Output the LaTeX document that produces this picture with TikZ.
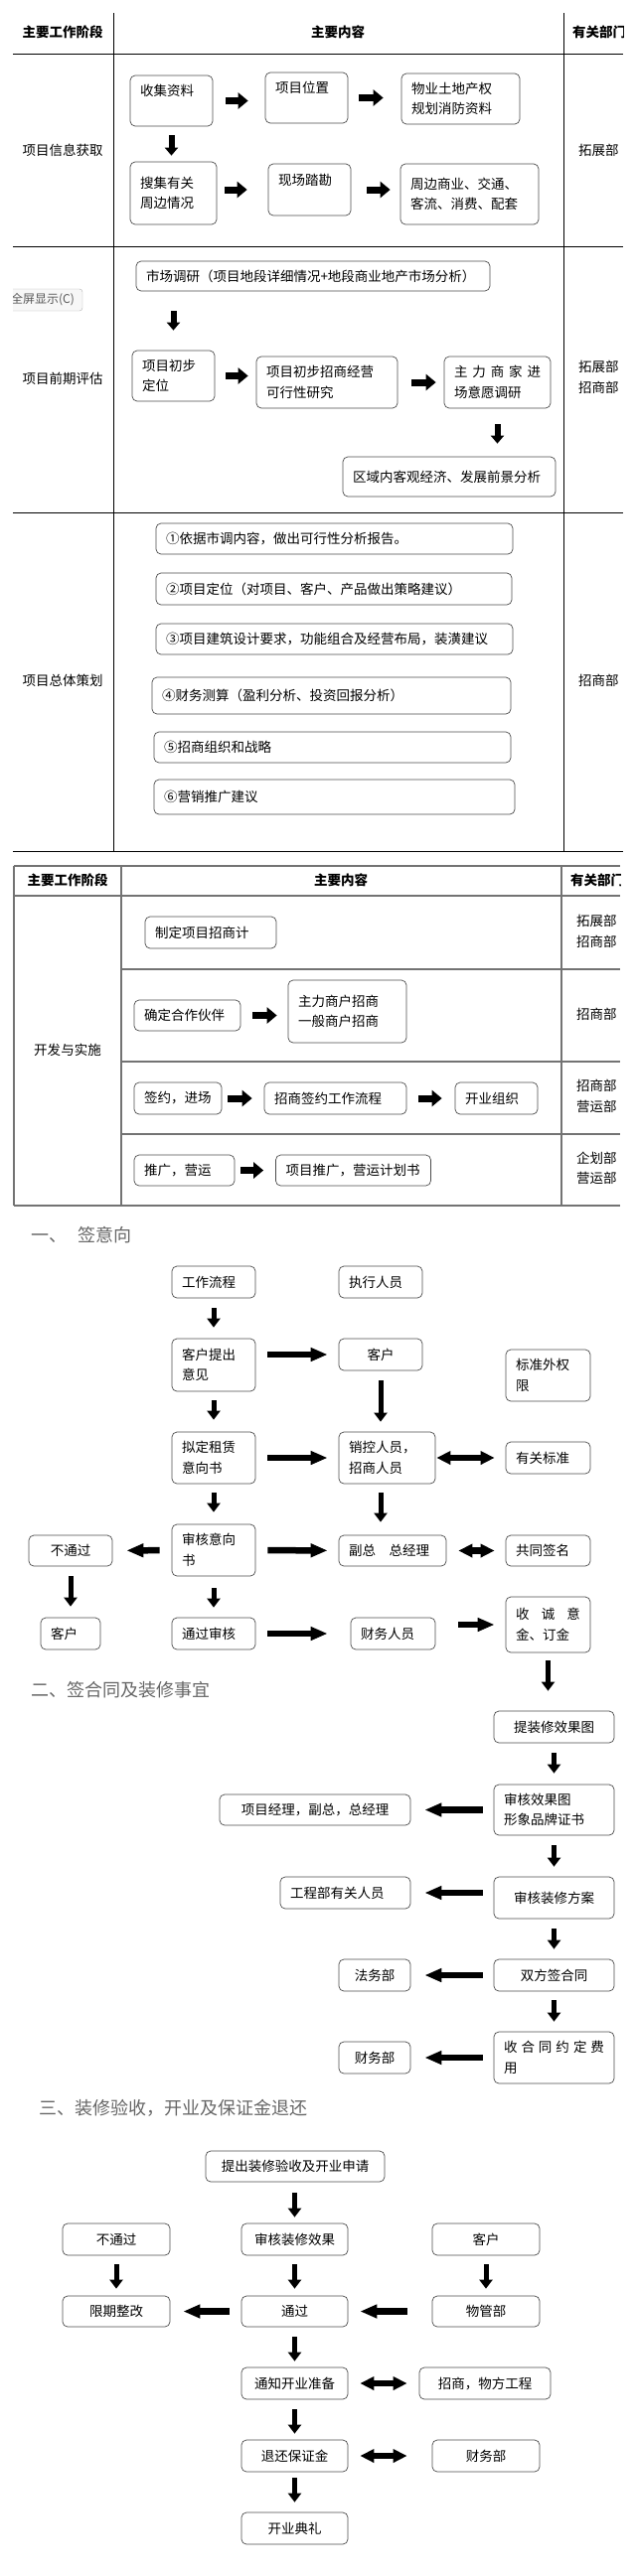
\documentclass[tikz,border=0pt]{standalone}
\usepackage{fontspec}
\newfontfamily\cjk{Noto Sans CJK SC}
\usetikzlibrary{arrows.meta}
\newcommand\testo{\cjk\fontsize{13.5}{20.5}\selectfont}
\newcommand\fonttitolo{\cjk\fontsize{18}{22}\selectfont}
\tikzset{
  cella/.style={draw=black!70, line width=0.7pt, rounded corners=5pt, fill=white, inner xsep=10pt, inner ysep=0pt, font=\testo, text=black},
  sx/.style={align=left, text width=#1},
  voce/.style={font=\testo, text=black, inner sep=0pt},
  tit/.style={font=\fonttitolo, text=black!60, inner sep=0pt, anchor=west},
  frt/.style={line width=7pt, -{Triangle[length=10pt,width=16pt]}},
  frtg/.style={line width=6pt, -{Triangle[length=8pt,width=13pt]}},
  fr/.style={line width=6.5pt, -{Triangle[length=17pt,width=13pt]}},
  frg/.style={line width=5pt, -{Triangle[length=9pt,width=13pt]}},
  fr2/.style={line width=6.5pt, {Triangle[length=14pt,width=13pt]}-{Triangle[length=14pt,width=13pt]}},
}
\begin{document}
\begin{tikzpicture}[x=1pt,y=-1pt]
  \useasboundingbox (0,0) rectangle (640,2594);
  \begin{scope}
    \clip (13,0) rectangle (627,870);
    %griglia
    \draw[line width=0.8pt] (114,13) -- (114,857);
    \draw[line width=0.8pt] (567,13) -- (567,857);
    \foreach \y in {54,248,516,857}
      \draw[line width=0.8pt] (13,\y) -- (627,\y);
    %intestazione
    \node[voce, font=\testo\bfseries] (h1) at (63,32) {主要工作阶段};
    \node[voce, font=\testo\bfseries] (h2) at (340,32) {主要内容};
    \node[voce, font=\testo\bfseries, anchor=west] (h3) at (576,32) {有关部门};
    \node[voce] (f1) at (63,151) {项目信息获取};
    \node[voce] (f2) at (63,381) {项目前期评估};
    \node[voce] (f3) at (63,685) {项目总体策划};
    \node[voce, anchor=west] (r1) at (582,151) {拓展部};
    \node[voce, anchor=west, align=left] (r2) at (582,380) {拓展部\\招商部};
    \node[voce, anchor=west] (r3) at (582,685) {招商部};
    \node[draw=black!30, fill=black!3, rounded corners=3pt, minimum width=80pt, minimum height=22pt, font=\cjk\fontsize{12}{14}\selectfont, text=black!65] (pieno) at (43,302) {全屏显示(C)};
    %riquadri
    \node[cella, sx=63pt, minimum height=51pt] (T1a) at (172.5,101.5) {收集资料\\\mbox{}};
    \node[cella, sx=63pt, minimum height=51pt] (T1b) at (308.5,98.5) {项目位置\\\mbox{}};
    \node[cella, sx=99pt, minimum height=51pt] (T1c) at (463.5,99.5) {物业土地产权\\规划消防资料};
    \node[cella, sx=67pt, minimum height=63pt] (T1d) at (174.5,194.5) {搜集有关\\周边情况};
    \node[cella, sx=63pt, minimum height=52pt] (T1e) at (311.5,191) {现场踏勘\\\mbox{}};
    \node[cella, sx=119pt, minimum height=61pt] (T1f) at (472.5,195.5) {周边商业、交通、\\客流、消费、配套};
    \node[cella, sx=336pt, minimum height=30pt] (T2a) at (315,278) {市场调研（项目地段详细情况+地段商业地产市场分析）};
    \node[cella, sx=63pt, minimum height=51pt] (T2b) at (174.5,378.5) {项目初步\\定位};
    \node[cella, sx=122pt, minimum height=52pt] (T2c) at (329,385) {项目初步招商经营\\可行性研究};
    \node[cella, sx=87pt, minimum height=52pt] (T2d) at (500.5,385) {主\hfill 力\hfill 商\hfill 家\hfill 进\\场意愿调研};
    \node[cella, sx=194pt, minimum height=40pt] (T2e) at (452,480) {区域内客观经济、发展前景分析};
    \node[cella, sx=339pt, minimum height=31pt] (P1) at (336.5,542.5) {①依据市调内容，做出可行性分析报告。};
    \node[cella, sx=338pt, minimum height=32pt] (P2) at (336,593) {②项目定位（对项目、客户、产品做出策略建议）};
    \node[cella, sx=339pt, minimum height=31pt] (P3) at (336.5,643.5) {③项目建筑设计要求，功能组合及经营布局，装潢建议};
    \node[cella, sx=341pt, minimum height=37pt] (P4) at (333.5,700.5) {④财务测算（盈利分析、投资回报分析）};
    \node[cella, sx=339pt, minimum height=31pt] (P5) at (334.5,752.5) {⑤招商组织和战略};
    \node[cella, sx=343pt, minimum height=35pt] (P6) at (336.5,802.5) {⑥营销推广建议};
    %frecce
    \draw[frt, shorten <=13pt, shorten >=17pt] (T1a.east) -- (T1a.east -| T1b.west);
    \draw[frt, shorten <=11pt, shorten >=18pt] (T1b.east) -- (T1b.east -| T1c.west);
    \draw[frt, shorten <=8pt, shorten >=21pt] (T1d.east |- T1e) -- (T1e.west);
    \draw[frt, shorten <=16pt, shorten >=10pt] (T1e.east) -- (T1e.east -| T1f.west);
    \draw[frtg, shorten <=9pt, shorten >=6pt] (T1a.south) -- (T1a.south |- T1d.north);
    \draw[frtg, shorten <=20pt, shorten >=20pt] (T2a.south -| T2b) -- (T2b.north);
    \draw[frt, shorten <=11pt, shorten >=8pt] (T2b.east) -- (T2b.east -| T2c.west);
    \draw[frt, shorten <=14pt, shorten >=8pt] (T2c) -- (T2d);
    \draw[frtg, shorten <=16pt, shorten >=13pt] (T2d.south) -- (T2d.south |- T2e.north);
  \end{scope}
  \begin{scope}
    \clip (0,860) rectangle (624,1225);
    %griglia
    \draw[black!55, line width=1.5pt] (14,872) -- (624,872) (14,902) -- (624,902) (14,1214) -- (624,1214);
    \draw[black!55, line width=1.5pt] (14,872) -- (14,1214) (122,872) -- (122,1214) (565,872) -- (565,1214);
    \foreach \y in {976,1069,1142}
      \draw[black!55, line width=1.5pt] (122,\y) -- (624,\y);
    %intestazione
    \node[voce, font=\testo\bfseries] (h4) at (68,886) {主要工作阶段};
    \node[voce, font=\testo\bfseries] (h5) at (343,886) {主要内容};
    \node[voce, font=\testo\bfseries, anchor=west] (h6) at (574,886) {有关部门};
    \node[voce] (f4) at (68,1057) {开发与实施};
    \node[voce, anchor=west, align=left] (r4) at (580,938) {拓展部\\招商部};
    \node[voce, anchor=west] (r5) at (580,1021) {招商部};
    \node[voce, anchor=west, align=left] (r6) at (580,1104) {招商部\\营运部};
    \node[voce, anchor=west, align=left] (r7) at (580,1176.5) {企划部\\营运部};
    %riquadri
    \node[cella, sx=112pt, minimum height=32pt] (Q1) at (212,939) {制定项目招商计};
    \node[cella, sx=87pt, minimum height=31pt] (Q2) at (188.5,1022.5) {确定合作伙伴};
    \node[cella, sx=99pt, minimum height=63pt] (Q3) at (349.5,1018.5) {主力商户招商\\一般商户招商};
    \node[cella, sx=68pt, minimum height=32pt] (Q4) at (179,1106) {签约，进场};
    \node[cella, sx=123pt, minimum height=32pt] (Q5) at (337.5,1106) {招商签约工作流程};
    \node[cella, sx=63pt, minimum height=32pt] (Q6) at (499.5,1106) {开业组织};
    \node[cella, sx=81pt, minimum height=31pt] (Q7) at (185.5,1178.5) {推广，营运};
    \node[cella, sx=136pt, minimum height=31pt] (Q8) at (355.5,1178.5) {项目推广，营运计划书};
    %frecce
    \draw[frt, shorten <=12pt, shorten >=11pt] (Q2.east) -- (Q2.east -| Q3.west);
    \draw[frt, shorten <=6pt, shorten >=12pt] (Q4) -- (Q5);
    \draw[frt, shorten <=12pt, shorten >=13pt] (Q5) -- (Q6);
    \draw[frt, shorten <=6pt, shorten >=12pt] (Q7) -- (Q8);
  \end{scope}
  %签意向
  \node[tit] (tit1) at (31,1244) {一、\hspace{11pt}签意向};
  \node[cella, sx=64pt, minimum height=32pt] (A1) at (215,1291) {工作流程};
  \node[cella, sx=64pt, minimum height=32pt] (A2) at (383,1291) {执行人员};
  \node[cella, sx=64pt, minimum height=53pt] (B1) at (215,1374.5) {客户提出\\意见};
  \node[cella, minimum width=84pt, minimum height=32pt] (B2) at (383,1364) {客户};
  \node[cella, sx=65pt, minimum height=52pt] (B3) at (551.5,1385) {标准外权\\限};
  \node[cella, sx=64pt, minimum height=52pt] (C1) at (215,1468) {拟定租赁\\意向书};
  \node[cella, sx=77pt, minimum height=52pt] (C2) at (389.5,1468) {销控人员，\\招商人员};
  \node[cella, sx=65pt, minimum height=32pt] (C3) at (551.5,1468) {有关标准};
  \node[cella, minimum width=84pt, minimum height=31pt] (D0) at (71,1561.5) {不通过};
  \node[cella, sx=64pt, minimum height=52pt] (D1) at (215,1561) {审核意向\\书};
  \node[cella, sx=88pt, minimum height=31pt] (D2) at (395,1561.5) {副总\hspace{13.5pt}总经理};
  \node[cella, sx=65pt, minimum height=31pt] (D3) at (551.5,1561.5) {共同签名};
  \node[cella, sx=40pt, minimum height=32pt] (E0) at (71,1645) {客户};
  \node[cella, sx=64pt, minimum height=32pt] (E1) at (215,1645) {通过审核};
  \node[cella, sx=65pt, minimum height=32pt] (E2) at (395.5,1645) {财务人员};
  \node[cella, sx=65pt, minimum height=56pt] (E3) at (551.5,1636) {收\hfill 诚\hfill 意\\金、订金};
  \draw[frg, shorten <=10pt, shorten >=11pt] (A1) -- (B1);
  \draw[frg, shorten <=9pt, shorten >=12pt] (B1) -- (C1);
  \draw[frg, shorten <=9pt, shorten >=12pt] (C1) -- (D1);
  \draw[frg, shorten <=12pt, shorten >=10pt] (D1) -- (E1);
  \draw[frg, shorten <=10pt, shorten >=11pt] (D0) -- (E0);
  \draw[frg, shorten <=10pt, shorten >=10pt] (B2) -- (B2 |- C2.north);
  \draw[frg, shorten <=9pt, shorten >=13pt] (B2 |- C2.south) -- (B2 |- D2.north);
  \draw[fr, shorten <=12pt, shorten >=11pt] (B1.east |- B2) -- (B2);
  \draw[fr, shorten <=12pt, shorten >=11pt] (C1) -- (C2);
  \draw[fr2, shorten <=1pt, shorten >=11pt] (C2) -- (C3);
  \draw[fr, shorten <=12pt, shorten >=14pt] (D1) -- (D0);
  \draw[fr, shorten <=12pt, shorten >=11pt] (D1) -- (D2);
  \draw[fr2, shorten <=12pt, shorten >=11pt] (D2) -- (D3);
  \draw[fr, shorten <=12pt, shorten >=23pt] (E1) -- (E2);
  \draw[fr, shorten <=23pt, shorten >=11pt] (E2.east |- E3) -- (E3);
  %签合同及装修事宜
  \node[tit] (tit2) at (31,1702) {二、签合同及装修事宜};
  \node[cella, minimum width=121pt, minimum height=32pt] (F1) at (557.5,1739) {提装修效果图};
  \node[cella, sx=101pt, minimum height=51pt] (F2) at (557.5,1822.5) {审核效果图\\形象品牌证书};
  \node[cella, minimum width=121pt, minimum height=42pt] (F3) at (557.5,1911) {审核装修方案};
  \node[cella, minimum width=121pt, minimum height=32pt] (F4) at (557.5,1989) {双方签合同};
  \node[cella, sx=101pt, minimum height=52pt] (F5) at (557.5,2072) {收\hfill 合\hfill 同\hfill 约\hfill 定\hfill 费\\用};
  \node[cella, minimum width=192pt, minimum height=31pt] (G2) at (317,1822.5) {项目经理，副总，总经理};
  \node[cella, sx=111pt, minimum height=32pt] (G3) at (347.5,1906) {工程部有关人员};
  \node[cella, minimum width=72pt, minimum height=32pt] (G4) at (377,1989) {法务部};
  \node[cella, minimum width=72pt, minimum height=32pt] (G5) at (377,2072) {财务部};
  \draw[frg, shorten <=8pt, shorten >=20pt] (E3) -- (E3 |- F1.north);
  \draw[frg, shorten <=10pt, shorten >=11pt] (F1) -- (F2);
  \draw[frg, shorten <=10pt, shorten >=10pt] (F2) -- (F3);
  \draw[frg, shorten <=10pt, shorten >=10pt] (F3) -- (F4);
  \draw[frg, shorten <=9pt, shorten >=10pt] (F4) -- (F5);
  \draw[fr, shorten <=11pt, shorten >=14pt] (F2) -- (G2);
  \draw[fr, shorten <=11pt, shorten >=14pt] (F3.west |- G3) -- (G3);
  \draw[fr, shorten <=11pt, shorten >=14pt] (F4) -- (G4);
  \draw[fr, shorten <=11pt, shorten >=14pt] (F5) -- (G5);
  %装修验收
  \node[tit] (tit3) at (39,2123) {三、装修验收，开业及保证金退还};
  \node[cella, minimum width=180pt, minimum height=31pt] (H1) at (297,2181.5) {提出装修验收及开业申请};
  \node[cella, minimum width=108pt, minimum height=32pt] (I0) at (117,2255) {不通过};
  \node[cella, minimum width=107pt, minimum height=32pt] (I1) at (296.5,2255) {审核装修效果};
  \node[cella, minimum width=108pt, minimum height=32pt] (I2) at (489,2255) {客户};
  \node[cella, minimum width=108pt, minimum height=31pt] (J0) at (117,2327.5) {限期整改};
  \node[cella, minimum width=107pt, minimum height=31pt] (J1) at (296.5,2327.5) {通过};
  \node[cella, minimum width=108pt, minimum height=31pt] (J2) at (489,2327.5) {物管部};
  \node[cella, minimum width=107pt, minimum height=32pt] (K1) at (296.5,2400) {通知开业准备};
  \node[cella, minimum width=132pt, minimum height=32pt] (K2) at (488,2400) {招商，物方工程};
  \node[cella, minimum width=107pt, minimum height=32pt] (L1) at (296.5,2473) {退还保证金};
  \node[cella, minimum width=108pt, minimum height=32pt] (L2) at (489,2473) {财务部};
  \node[cella, minimum width=107pt, minimum height=32pt] (M1) at (296.5,2546) {开业典礼};
  \draw[frg, shorten <=11pt, shorten >=6pt] (H1.south -| I1) -- (I1);
  \draw[frg, shorten <=9pt, shorten >=7pt] (I0) -- (J0);
  \draw[frg, shorten <=9pt, shorten >=7pt] (I1) -- (J1);
  \draw[frg, shorten <=9pt, shorten >=7pt] (I2) -- (J2);
  \draw[frg, shorten <=10pt, shorten >=6pt] (J1) -- (K1);
  \draw[frg, shorten <=10pt, shorten >=6pt] (K1) -- (L1);
  \draw[frg, shorten <=6pt, shorten >=10pt] (L1) -- (M1);
  \draw[fr, shorten <=12pt, shorten >=13pt] (J1) -- (J0);
  \draw[fr, shorten <=25pt, shorten >=12pt] (J2) -- (J1);
  \draw[fr2, shorten <=12pt, shorten >=12pt] (K1) -- (K2);
  \draw[fr2, shorten <=12pt, shorten >=25pt] (L1) -- (L2);
\end{tikzpicture}
\end{document}
